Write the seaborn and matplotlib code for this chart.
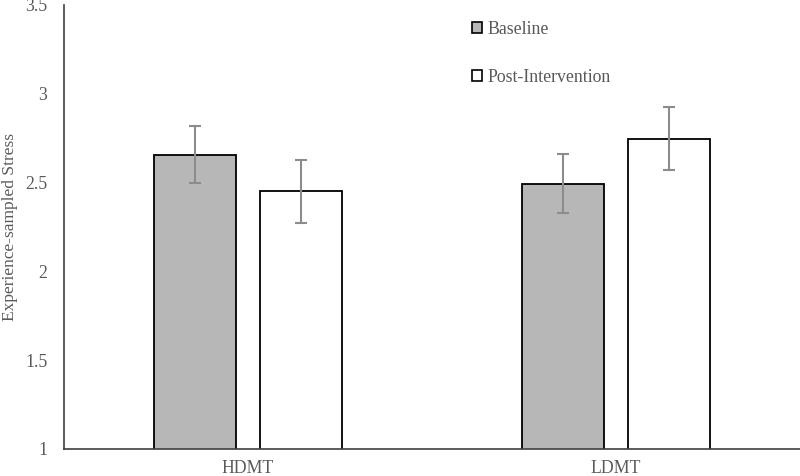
import matplotlib
matplotlib.use('Agg')
import matplotlib.pyplot as plt
import seaborn as sns
import pandas as pd
from matplotlib.patches import Patch

groups = ['HDMT', 'LDMT']
phases = ['Baseline', 'Post-Intervention']
baseline = [2.657, 2.492]
post = [2.451, 2.747]
baseline_err = [0.16, 0.167]
post_err = [0.177, 0.178]
yticks = [1, 1.5, 2, 2.5, 3, 3.5]

df = pd.DataFrame({
    'Group': groups * 2,
    'Phase': [phases[0]] * 2 + [phases[1]] * 2,
    'Stress': baseline + post,
})

sns.set_style('white')
plt.rcParams['font.family'] = ['Liberation Serif', 'DejaVu Serif']
text_grey = '#595959'

fig = plt.figure(figsize=(8, 4.76), dpi=100)
ax = fig.add_axes([0.08, 0.057, 0.92, 0.933])

sns.barplot(data=df, x='Group', y='Stress', hue='Phase', order=groups,
            hue_order=phases, palette=['#b7b7b7', '#ffffff'],
            width=0.571, gap=0.22, errorbar=None, edgecolor='black',
            linewidth=1.3, ax=ax, legend=False)

# error bars at the bar centres
for cont, errs in zip(ax.containers, [baseline_err, post_err]):
    xs = [p.get_x() + p.get_width() / 2 for p in cont]
    ys = [p.get_height() + p.get_y() for p in cont]
    ax.errorbar(xs, ys, yerr=errs, fmt='none', ecolor='#8c8c8c',
                elinewidth=1.5, capsize=4, capthick=1.5, zorder=5)

ax.set_ylim(1, 3.5)
ax.set_xlim(-0.5, 1.5)
ax.set_yticks(yticks)
ax.set_yticklabels([f'{t:g}' for t in yticks])
ax.tick_params(axis='both', length=0, labelsize=12.8, colors=text_grey, pad=8)
ax.tick_params(axis='y', pad=12)
ax.set_xlabel('')
ax.set_ylabel('Experience-sampled Stress', fontsize=12.5, color=text_grey)
ax.yaxis.set_label_coords(-0.062, 0.5)

for s in ['top', 'right']:
    ax.spines[s].set_visible(False)
for s in ['left', 'bottom']:
    ax.spines[s].set_color('#404040')
    ax.spines[s].set_linewidth(1.2)

handles = [Patch(facecolor='#b7b7b7', edgecolor='black', linewidth=1.2),
           Patch(facecolor='white', edgecolor='black', linewidth=1.2)]
leg = ax.legend(handles, phases, loc='upper left', bbox_to_anchor=(0.532, 1.0),
                frameon=False, fontsize=12.8, labelspacing=1.75,
                handlelength=0.6, handleheight=0.6, handletextpad=0.3)
for t in leg.get_texts():
    t.set_color(text_grey)

fig.savefig('out.png', dpi=100)
